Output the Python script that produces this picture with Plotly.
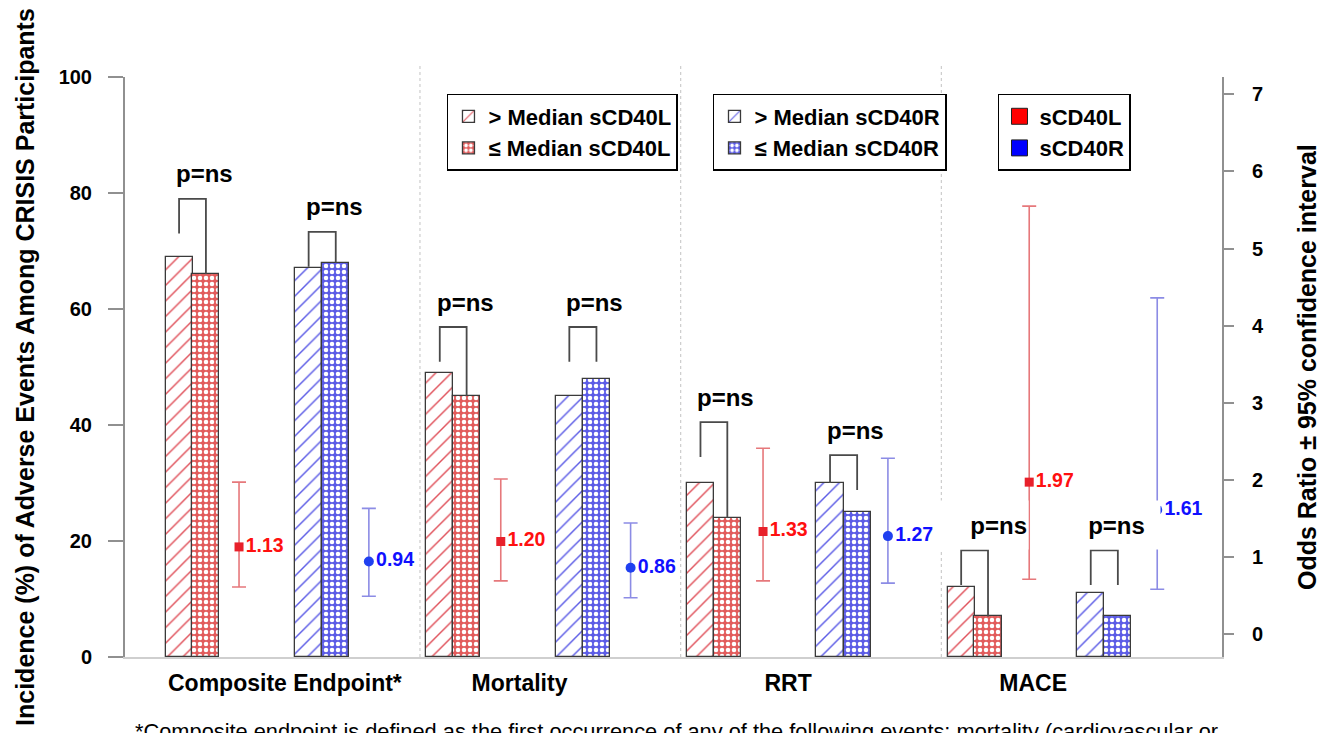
import plotly.graph_objects as go

# ---------------- data ----------------
categories = ["Composite Endpoint*", "Mortality", "RRT", "MACE"]
l_above = [69, 49, 30, 12]   # > Median sCD40L (%)
l_below = [66, 45, 24, 7]    # <= Median sCD40L (%)
r_above = [67, 45, 30, 11]   # > Median sCD40R (%)
r_below = [68, 48, 25, 7]    # <= Median sCD40R (%)

l_or = [1.13, 1.20, 1.33, 1.97]
l_ci_low = [0.61, 0.69, 0.69, 0.71]
l_ci_high = [1.97, 2.01, 2.41, 5.55]
r_or = [0.94, 0.86, 1.27, 1.61]
r_ci_low = [0.49, 0.47, 0.66, 0.58]
r_ci_high = [1.63, 1.44, 2.28, 4.36]

p_text = "p=ns"
left_ticks = [0, 20, 40, 60, 80, 100]
right_ticks = [0, 1, 2, 3, 4, 5, 6, 7]
footnote = ("*Composite endpoint is defined as the first occurrence of any of the "
            "following events: mortality (cardiovascular or")

# ---------------- layout constants ----------------
FONT = "Liberation Sans, Arial, Helvetica, sans-serif"
OFF_L1, OFF_L2, OFF_R1, OFF_R2, OFF_SEP = 0.054, 0.157, 0.551, 0.655, 0.978
OFF_LE = [0.284, 0.288, 0.294, 0.315]
OFF_RE = [0.782, 0.786, 0.773, 0.806]
LABEL_OFF = [0.46, 0.36, 0.39, 0.33]
BAR_W = 0.104
bracket_level = [[79, 73.3], [56.9, 56.9], [40.5, 34.8], [18.4, 18.4]]

RED_LINE = "#e0505a"
RED_FILL = "#e25c5c"
BLUE_LINE = "#5a5ae6"
BLUE_FILL = "#5c5ce6"
OUTLINE = "#3a3a3a"

idx = list(range(len(categories)))

fig = go.Figure()


def hatch_bar(xs, ys, name, legend, line_col):
    return go.Bar(
        x=xs, y=ys, width=BAR_W, name=name, legend=legend,
        marker=dict(color="white", line=dict(color=OUTLINE, width=1.3),
                    pattern=dict(shape="/", fgcolor=line_col, bgcolor="white",
                                 size=11, solidity=0.13, fillmode="replace")),
        hoverinfo="skip")


def mesh_bar(xs, ys, name, legend, fill_col):
    return go.Bar(
        x=xs, y=ys, width=BAR_W, name=name, legend=legend,
        marker=dict(color=fill_col, line=dict(color=OUTLINE, width=1.3),
                    pattern=dict(shape=".", fgcolor="white", bgcolor=fill_col,
                                 size=6, solidity=0.45, fillmode="replace")),
        hoverinfo="skip")


fig.add_trace(hatch_bar([i + OFF_L1 for i in idx], l_above, "<b>&gt; Median sCD40L</b>", "legend", RED_LINE))
fig.add_trace(mesh_bar([i + OFF_L2 for i in idx], l_below, "<b>≤ Median sCD40L</b>", "legend", RED_FILL))
fig.add_trace(hatch_bar([i + OFF_R1 for i in idx], r_above, "<b>&gt; Median sCD40R</b>", "legend2", BLUE_LINE))
fig.add_trace(mesh_bar([i + OFF_R2 for i in idx], r_below, "<b>≤ Median sCD40R</b>", "legend2", BLUE_FILL))

# brackets
bx, by = [], []
ann = []
for i in idx:
    pairs = [
        (i + OFF_L1, i + OFF_L2, l_above[i], l_below[i], bracket_level[i][0], True),
        (i + OFF_R1, i + OFF_R2, r_above[i], r_below[i], bracket_level[i][1], False),
    ]
    for k, (x1, x2, v1, v2, top, touch) in enumerate(pairs):
        left_end = max(v1, top - 6)
        right_end = v2 if touch else max(v2, top - 6)
        bx += [x1, x1, x2, x2, None]
        by += [left_end, top, top, right_end, None]
        a = dict(x=(x1 + x2) / 2, y=top + 4.3, xref="x", yref="y", text=f"<b>{p_text}</b>",
                 showarrow=False, font=dict(size=24, color="black", family=FONT),
                 xanchor="center", yanchor="middle", xshift=12)
        if i == len(categories) - 1:
            a.update(bgcolor="white", height=46)
            if k == 0:
                a.update(width=89, xshift=7.5, align="right")
            else:
                a.update(width=85, xshift=12.5, align="center")
        ann.append(a)

fig.add_trace(go.Scatter(x=bx, y=by, mode="lines", line=dict(color="#4a4a4a", width=1.8),
                         showlegend=False, hoverinfo="skip"))

# odds ratios with CI (right axis)
fig.add_trace(go.Scatter(
    x=[i + OFF_LE[i] for i in idx], y=l_or, yaxis="y2", mode="markers+text",
    text=[f"<b>{v:.2f}</b>" for v in l_or], textposition="middle right",
    textfont=dict(color="#ff1010", size=19.5, family=FONT),
    marker=dict(symbol="square", size=9, color="#e8202a"),
    error_y=dict(type="data", symmetric=False,
                 array=[h - v for h, v in zip(l_ci_high, l_or)],
                 arrayminus=[v - lo for v, lo in zip(l_or, l_ci_low)],
                 color="rgba(226,96,100,0.85)", thickness=1.6, width=7),
    showlegend=False, hoverinfo="skip"))
fig.add_trace(go.Scatter(
    x=[i + OFF_RE[i] for i in idx], y=r_or, yaxis="y2", mode="markers+text",
    text=[f"<b>{v:.2f}</b>" for v in r_or], textposition="middle right",
    textfont=dict(color="#1010ff", size=19.5, family=FONT),
    marker=dict(symbol="circle", size=10, color="#2040f0"),
    error_y=dict(type="data", symmetric=False,
                 array=[h - v for h, v in zip(r_ci_high, r_or)],
                 arrayminus=[v - lo for v, lo in zip(r_or, r_ci_low)],
                 color="rgba(120,120,225,0.85)", thickness=1.6, width=7),
    showlegend=False, hoverinfo="skip"))

# legend 3 entries
fig.add_trace(go.Scatter(x=[None], y=[None], mode="markers", name="<b>sCD40L</b>", legend="legend3",
                         marker=dict(symbol="square", size=16, color="#ff0000",
                                     line=dict(color="#222", width=1))))
fig.add_trace(go.Scatter(x=[None], y=[None], mode="markers", name="<b>sCD40R</b>", legend="legend3",
                         marker=dict(symbol="square", size=16, color="#0000ff",
                                     line=dict(color="#222", width=1))))

# separators
shapes = []
for i in idx[:-1]:
    shapes.append(dict(type="line", xref="x", yref="paper", x0=i + OFF_SEP, x1=i + OFF_SEP,
                       y0=0, y1=1.02, line=dict(color="#cdcdcd", width=1.2, dash="dot"),
                       layer="below"))

# titles / footnote
ann.append(dict(xref="paper", yref="paper", x=-0.0912, y=0.5, textangle=-90,
                text="<b>Incidence (%) of Adverse Events Among CRISIS Participants</b>",
                showarrow=False, font=dict(size=25, color="black", family=FONT),
                xanchor="center", yanchor="middle"))
ann.append(dict(xref="paper", yref="paper", x=1.0775, y=0.5, textangle=-90,
                text="<b>Odds Ratio ± 95% confidence interval</b>",
                showarrow=False, font=dict(size=25, color="black", family=FONT),
                xanchor="center", yanchor="middle"))
ann.append(dict(xref="paper", yref="paper", x=0.0073, y=-0.104, text=footnote,
                showarrow=False, font=dict(size=21.8, color="black", family=FONT),
                xanchor="left", yanchor="top"))

legend_common = dict(bgcolor="white", bordercolor="black", borderwidth=1.5,
                     font=dict(size=22, color="black", family=FONT),
                     xanchor="left", yanchor="top", tracegroupgap=0, itemclick=False)

fig.update_layout(
    width=1326, height=733, autosize=False,
    margin=dict(l=125, r=104, t=77, b=76),
    paper_bgcolor="white", plot_bgcolor="white",
    barmode="overlay", bargap=0,
    font=dict(family=FONT, color="black"),
    xaxis=dict(range=[-0.1534, 4.0545], showgrid=False, zeroline=False,
               showline=True, linecolor="#cfcfcf", linewidth=1.5,
               tickvals=[i + LABEL_OFF[i] for i in idx],
               ticktext=[f"<b>{c}</b>" for c in categories],
               ticks="", tickfont=dict(size=23, color="black", family=FONT),
               ticklabelstandoff=5),
    yaxis=dict(range=[0, 100], tickvals=left_ticks, showgrid=False, zeroline=False,
               showline=True, linecolor="#909090", linewidth=2,
               ticks="outside", ticklen=15, tickwidth=1.6, tickcolor="#909090",
               tickfont=dict(size=20, color="black", family=FONT, weight="bold"),
               ticklabelstandoff=12),
    yaxis2=dict(range=[-0.298, 7.225], tickvals=right_ticks, overlaying="y", side="right",
                showgrid=False, zeroline=False,
                showline=True, linecolor="#909090", linewidth=2,
                ticks="outside", ticklen=10, tickwidth=1.6, tickcolor="#909090",
                tickfont=dict(size=20, color="black", family=FONT, weight="bold"),
                ticklabelstandoff=14),
    legend=dict(x=0.2935, y=0.9707, **legend_common),
    legend2=dict(x=0.5360, y=0.9707, **legend_common),
    legend3=dict(x=0.7958, y=0.9707, **legend_common),
    shapes=shapes,
    annotations=ann,
)

fig.write_html("out.html", config={"displayModeBar": False},
               post_script="document.body.style.margin='0';document.body.style.overflow='hidden';")
